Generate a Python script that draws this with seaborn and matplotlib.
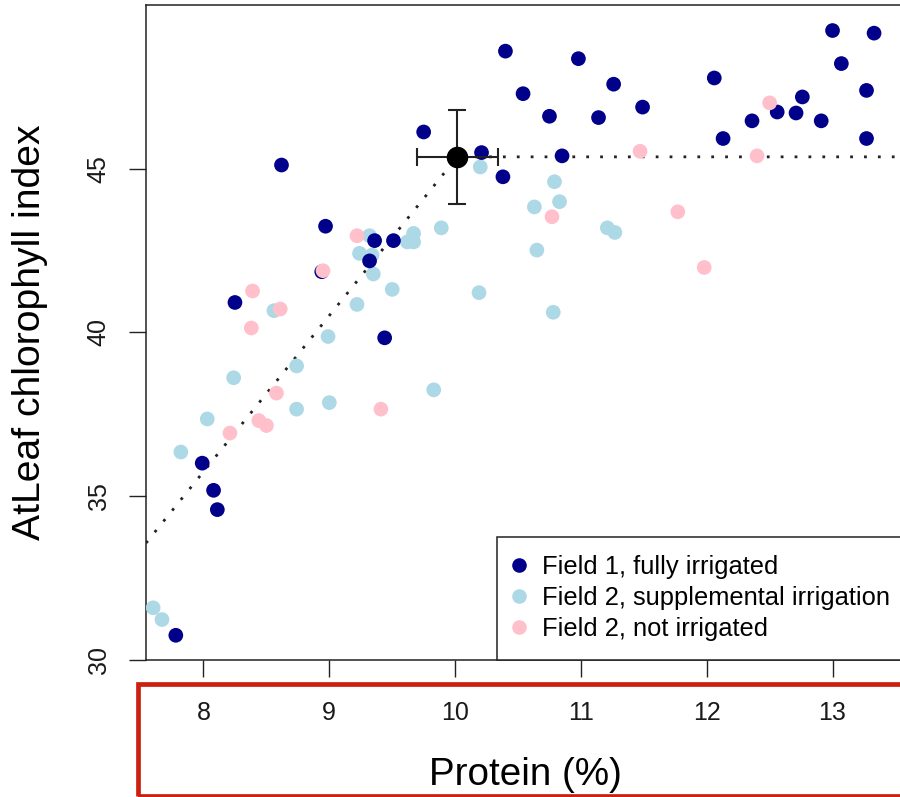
import pandas as pd
import seaborn as sns
import matplotlib.pyplot as plt
from matplotlib.lines import Line2D
from matplotlib.patches import Rectangle

# groups and colours
groups = ['Field 1, fully irrigated', 'Field 2, supplemental irrigation', 'Field 2, not irrigated']
colors = ['#00008B', '#ADD8E6', '#FFC0CB']

# Field 1, fully irrigated
f1_protein = [10.40, 10.54, 10.75, 10.98, 11.14, 11.26, 11.49, 10.85, 10.38, 10.21,
              9.75, 8.62, 8.97, 9.36, 9.51, 9.32, 8.94, 8.25, 9.44, 7.99,
              8.08, 8.11, 7.78, 12.06, 12.13, 12.36, 12.56, 12.71, 12.76, 12.91,
              13.00, 13.33, 13.07, 13.27, 13.27]
f1_chl = [48.59, 47.29, 46.60, 48.36, 46.56, 47.58, 46.88, 45.39, 44.75, 45.49,
          46.12, 45.11, 43.24, 42.80, 42.80, 42.18, 41.85, 40.91, 39.83, 36.00,
          35.17, 34.58, 30.74, 47.77, 45.92, 46.46, 46.73, 46.70, 47.19, 46.46,
          49.22, 49.14, 48.21, 47.39, 45.92]

# Field 2, supplemental irrigation
f2s_protein = [10.20, 9.32, 9.67, 9.62, 9.67, 9.89, 9.24, 9.34, 9.35, 9.50,
               10.19, 8.56, 9.22, 8.99, 10.79, 10.63, 10.83, 11.21, 11.27, 10.65,
               10.78, 8.74, 8.24, 8.74, 9.00, 9.83, 8.03, 7.82, 7.60, 7.67]
f2s_chl = [45.05, 42.95, 43.02, 42.76, 42.76, 43.19, 42.41, 42.36, 41.78, 41.31,
           41.21, 40.66, 40.85, 39.87, 44.60, 43.83, 43.99, 43.19, 43.05, 42.51,
           40.61, 38.97, 38.61, 37.65, 37.85, 38.24, 37.35, 36.34, 31.58, 31.22]

# Field 2, not irrigated
f2n_protein = [9.22, 8.95, 8.39, 8.61, 8.38, 11.47, 10.77, 11.77, 11.98, 12.50,
               12.40, 8.58, 9.41, 8.44, 8.50, 8.21]
f2n_chl = [42.95, 41.88, 41.26, 40.71, 40.13, 45.53, 43.53, 43.68, 41.98, 47.01,
           45.39, 38.14, 37.65, 37.30, 37.15, 36.92]

# breakpoint (mean +- sd) and broken-line fit
mean_protein, mean_chl = 10.017, 45.36
sd_protein, sd_chl = 0.32, 1.44
fit_x = [7.543, 10.017, 13.568]
fit_y = [33.56, 45.36, 45.36]

x_ticks = [8, 9, 10, 11, 12, 13]
y_ticks = [30, 35, 40, 45]

df = pd.concat([
    pd.DataFrame({'protein': f2s_protein, 'chl': f2s_chl, 'group': groups[1]}),
    pd.DataFrame({'protein': f1_protein, 'chl': f1_chl, 'group': groups[0]}),
    pd.DataFrame({'protein': f2n_protein, 'chl': f2n_chl, 'group': groups[2]}),
], ignore_index=True)

sns.set_style('ticks')
plt.rcParams['font.family'] = ['Liberation Sans', 'DejaVu Sans']

fig = plt.figure(figsize=(9, 7.97), dpi=100)
ax = fig.add_axes([146 / 900, 1 - 659.5 / 797, 758 / 900, 654.5 / 797])

sns.scatterplot(data=df, x='protein', y='chl', hue='group', hue_order=groups,
                palette=dict(zip(groups, colors)), s=112, linewidth=0,
                legend=False, ax=ax, zorder=3)

# fitted broken line
ax.plot(fit_x, fit_y, color='#222222', linestyle=(0, (1, 4)), linewidth=2, zorder=2)

# mean point with error bars
ax.errorbar(mean_protein, mean_chl, xerr=sd_protein, yerr=sd_chl, fmt='o',
            color='black', ecolor='#222222', markersize=14.5, elinewidth=1.5,
            capsize=6.8, capthick=1.5, zorder=4)

ax.set_xlim(fit_x[0], fit_x[-1])
ax.set_ylim(30, 50)
ax.set_xticks(x_ticks)
ax.set_yticks(y_ticks)
ax.tick_params(axis='both', length=12, width=1.0, color='#222222',
               labelsize=18, labelcolor='#1a1a1a', direction='out',
               bottom=True, left=True, top=False, right=False)
ax.tick_params(axis='x', pad=18)
ax.tick_params(axis='y', pad=13.5, labelrotation=90)
for lbl in ax.get_yticklabels():
    lbl.set_va('center')

for sp in ax.spines.values():
    sp.set_color('#222222')
    sp.set_linewidth(1.1)

ax.set_xlabel('Protein (%)', fontsize=27.8, va='top', color='black')
ax.xaxis.set_label_coords(0.5, -0.1487)
ax.set_ylabel('AtLeaf chlorophyll index', fontsize=28.2, color='black')
ax.yaxis.set_label_coords(-0.1293, 0.5)

handles = [Line2D([], [], marker='o', linestyle='', markersize=10.5,
                  markerfacecolor=c, markeredgewidth=0) for c in colors]
leg = ax.legend(handles, groups, loc='lower left',
                bbox_to_anchor=((497.3 - 146) / 758, 0), borderaxespad=0,
                fontsize=18.4, frameon=True, fancybox=False, edgecolor='#222222',
                framealpha=1, borderpad=0.72, handlelength=0.26,
                handletextpad=0.78, labelspacing=0.27)
leg.get_frame().set_linewidth(1.1)
leg.set_zorder(5)
for t in leg.get_texts():
    t.set_color('black')

# red highlight box around the x axis labels
fig.add_artist(Rectangle((138.3 / 900, 1 - 795.5 / 797), 1.0, (795.5 - 684.3) / 797,
                         transform=fig.transFigure, fill=False,
                         edgecolor='#CC2010', linewidth=3.4))

fig.savefig('out.png', dpi=100)
